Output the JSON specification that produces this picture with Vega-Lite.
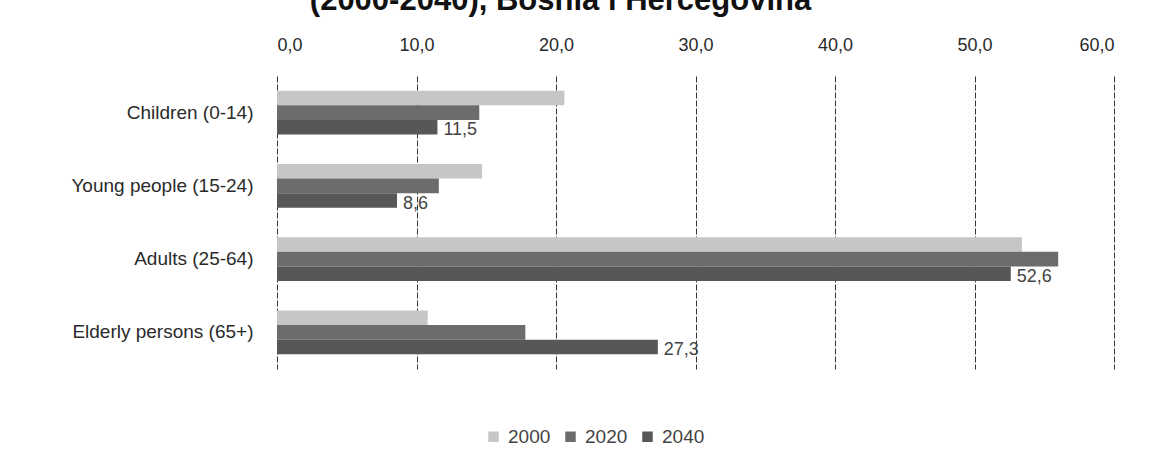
{
  "$schema": "https://vega.github.io/schema/vega-lite/v6.json",
  "width": 837,
  "height": 293,
  "autosize": {"type": "none"},
  "padding": {"left": 277, "top": 76, "right": 44, "bottom": 94},
  "background": "white",
  "title": {
    "text": "(2000-2040), Bosnia i Hercegovina",
    "font": "Liberation Sans",
    "fontSize": 31,
    "fontWeight": "bold",
    "color": "#111",
    "anchor": "middle",
    "frame": "group",
    "dx": -135,
    "dy": -15
  },
  "config": {
    "locale": {
      "number": {"decimal": ",", "thousands": ".", "grouping": [3], "currency": ["", " €"]}
    },
    "view": {"stroke": null},
    "axis": {"labelFont": "Liberation Sans", "labelColor": "#2a2a2a"},
    "legend": {"labelFont": "Liberation Sans"}
  },
  "data": {
    "values": [
      {"group": "Children (0-14)", "year": "2000", "value": 20.6},
      {"group": "Children (0-14)", "year": "2020", "value": 14.5},
      {"group": "Children (0-14)", "year": "2040", "value": 11.5},
      {"group": "Young people (15-24)", "year": "2000", "value": 14.7},
      {"group": "Young people (15-24)", "year": "2020", "value": 11.6},
      {"group": "Young people (15-24)", "year": "2040", "value": 8.6},
      {"group": "Adults (25-64)", "year": "2000", "value": 53.4},
      {"group": "Adults (25-64)", "year": "2020", "value": 56.0},
      {"group": "Adults (25-64)", "year": "2040", "value": 52.6},
      {"group": "Elderly persons (65+)", "year": "2000", "value": 10.8},
      {"group": "Elderly persons (65+)", "year": "2020", "value": 17.8},
      {"group": "Elderly persons (65+)", "year": "2040", "value": 27.3}
    ]
  },
  "encoding": {
    "y": {
      "field": "group",
      "type": "nominal",
      "sort": ["Children (0-14)", "Young people (15-24)", "Adults (25-64)", "Elderly persons (65+)"],
      "scale": {"paddingInner": 0.4, "paddingOuter": 0.2},
      "axis": {"title": null, "ticks": false, "domain": false, "labelFontSize": 19, "labelPadding": 24, "labelLimit": 300}
    },
    "x": {
      "field": "value",
      "type": "quantitative",
      "scale": {"domain": [0, 60], "nice": false},
      "axis": {
        "orient": "top",
        "title": null,
        "values": [0, 10, 20, 30, 40, 50, 60],
        "format": ".1f",
        "domain": false,
        "ticks": false,
        "labelFontSize": 18,
        "labelPadding": 22,
        "grid": true,
        "gridColor": "#333",
        "gridDash": [6, 2],
        "gridWidth": 1
      }
    },
    "yOffset": {"field": "year", "type": "nominal", "sort": ["2000", "2020", "2040"]}
  },
  "layer": [
    {
      "mark": {"type": "bar"},
      "encoding": {
        "color": {
          "field": "year",
          "type": "nominal",
          "scale": {"domain": ["2000", "2020", "2040"], "range": ["#c6c6c6", "#6c6c6c", "#575757"]},
          "legend": {
            "title": null,
            "orient": "none",
            "direction": "horizontal",
            "legendX": 207,
            "legendY": 351,
            "symbolType": "square",
            "symbolSize": 110,
            "symbolStrokeWidth": 0,
            "labelFontSize": 19,
            "labelColor": "#444",
            "labelOffset": 5,
            "columnPadding": 10
          }
        }
      }
    },
    {
      "transform": [{"filter": "datum.year == '2040'"}],
      "mark": {"type": "text", "align": "left", "dx": 6, "dy": 3, "font": "Liberation Sans", "fontSize": 18, "color": "#444"},
      "encoding": {
        "text": {"field": "value", "type": "quantitative", "format": ".1f"}
      }
    }
  ]
}
